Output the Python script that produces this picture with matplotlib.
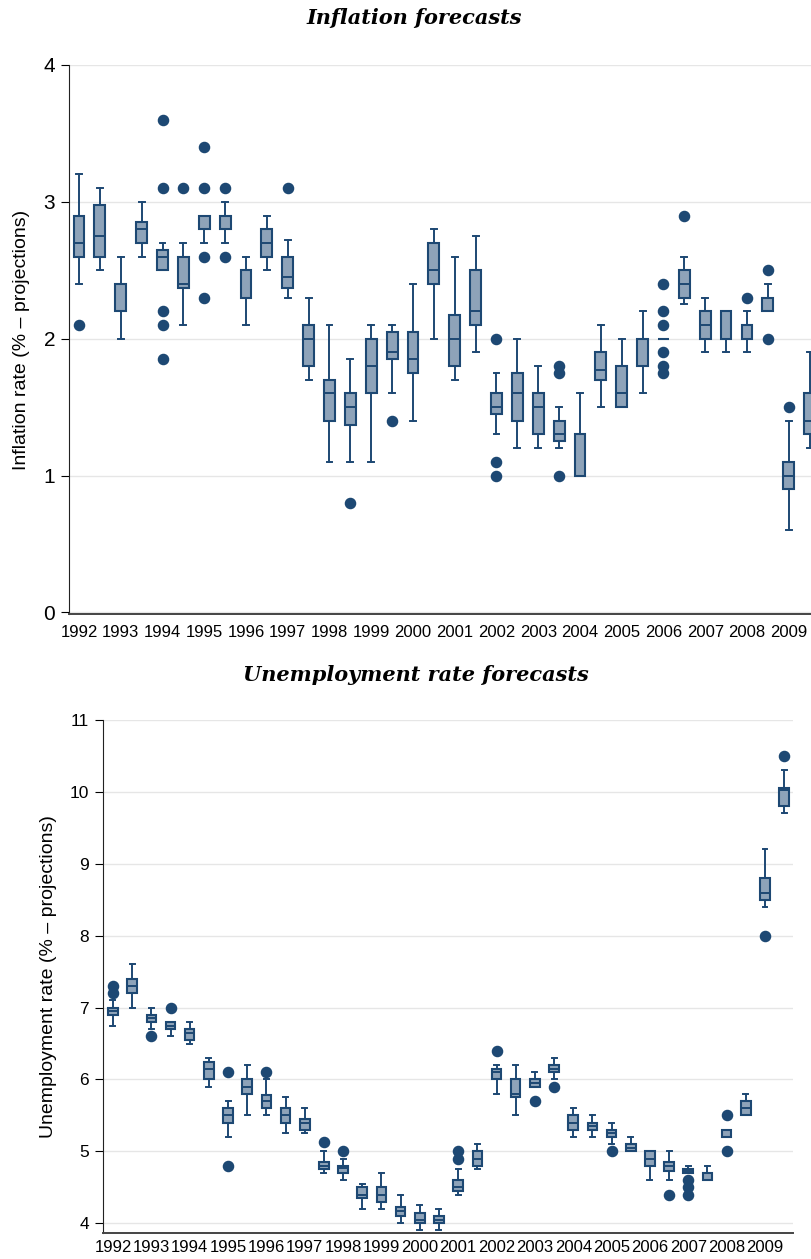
import numpy as np
import matplotlib
matplotlib.use("Agg")
import matplotlib.pyplot as plt

# two forecast rounds per year (spring / autumn)
years = list(range(1992, 2010))
periods = np.arange(1992, 2010, 0.5)

# Inflation forecasts: lower whisker, q1, median, q3, upper whisker, outliers
inf_lo = [2.4, 2.5, 2.0, 2.6, 2.5, 2.1, 2.7, 2.7, 2.1, 2.5, 2.3, 1.7,
          1.1, 1.1, 1.1, 1.6, 1.4, 2.0, 1.7, 1.9, 1.3, 1.2, 1.2, 1.2,
          1.0, 1.5, 1.5, 1.6, 2.0, 2.25, 1.9, 1.9, 1.9, 2.2, 0.6, 1.2]
inf_q1 = [2.6, 2.6, 2.2, 2.7, 2.5, 2.37, 2.8, 2.8, 2.3, 2.6, 2.37, 1.8,
          1.4, 1.37, 1.6, 1.85, 1.75, 2.4, 1.8, 2.1, 1.45, 1.4, 1.3, 1.25,
          1.0, 1.7, 1.5, 1.8, 2.0, 2.3, 2.0, 2.0, 2.0, 2.2, 0.9, 1.3]
inf_med = [2.7, 2.75, 2.4, 2.8, 2.6, 2.4, 2.9, 2.9, 2.5, 2.7, 2.45, 2.0,
           1.6, 1.5, 1.8, 1.9, 1.85, 2.5, 2.0, 2.2, 1.5, 1.6, 1.5, 1.3,
           1.0, 1.77, 1.6, 2.0, 2.0, 2.4, 2.1, 2.2, 2.1, 2.3, 1.0, 1.4]
inf_q3 = [2.9, 2.98, 2.4, 2.85, 2.65, 2.6, 2.9, 2.9, 2.5, 2.8, 2.6, 2.1,
          1.7, 1.6, 2.0, 2.05, 2.05, 2.7, 2.17, 2.5, 1.6, 1.75, 1.6, 1.4,
          1.3, 1.9, 1.8, 2.0, 2.0, 2.5, 2.2, 2.2, 2.1, 2.3, 1.1, 1.6]
inf_hi = [3.2, 3.1, 2.6, 3.0, 2.7, 2.7, 2.9, 3.0, 2.6, 2.9, 2.72, 2.3,
          2.1, 1.85, 2.1, 2.1, 2.4, 2.8, 2.6, 2.75, 1.75, 2.0, 1.8, 1.5,
          1.6, 2.1, 2.0, 2.2, 2.0, 2.6, 2.3, 2.2, 2.2, 2.4, 1.4, 1.9]
inf_out = [[2.1], [], [], [], [3.6, 3.1, 2.2, 2.1, 1.85], [3.1],
           [3.4, 3.1, 2.6, 2.3], [3.1, 2.6], [], [], [3.1], [],
           [], [0.8], [], [1.4], [], [],
           [], [], [2.0, 1.1, 1.0], [], [], [1.8, 1.75, 1.0],
           [], [], [], [], [2.4, 2.2, 2.1, 1.9, 1.8, 1.75], [2.9],
           [], [], [2.3], [2.5, 2.0], [1.5], []]

# Unemployment rate forecasts
une_lo = [6.75, 7.0, 6.7, 6.6, 6.5, 5.9, 5.2, 5.5, 5.5, 5.25, 5.25, 4.7,
          4.6, 4.2, 4.2, 4.0, 3.9, 3.9, 4.4, 4.75, 5.8, 5.5, 5.9, 6.0,
          5.2, 5.2, 5.1, 5.0, 4.6, 4.6, 4.7, 4.6, 5.2, 5.5, 8.4, 9.7]
une_q1 = [6.9, 7.2, 6.8, 6.7, 6.55, 6.0, 5.4, 5.8, 5.6, 5.4, 5.3, 4.75,
          4.7, 4.35, 4.3, 4.1, 4.0, 4.0, 4.45, 4.8, 6.0, 5.75, 5.9, 6.1,
          5.3, 5.3, 5.2, 5.0, 4.8, 4.73, 4.7, 4.6, 5.2, 5.5, 8.5, 9.8]
une_med = [6.95, 7.3, 6.85, 6.75, 6.65, 6.15, 5.5, 5.9, 5.7, 5.5, 5.4, 4.8,
           4.77, 4.4, 4.4, 4.17, 4.05, 4.05, 4.5, 4.9, 6.1, 5.8, 5.95, 6.15,
           5.4, 5.35, 5.25, 5.05, 4.9, 4.8, 4.73, 4.7, 5.2, 5.6, 8.6, 10.02]
une_q3 = [7.0, 7.4, 6.9, 6.8, 6.7, 6.25, 5.6, 6.0, 5.78, 5.6, 5.45, 4.85,
          4.8, 4.5, 4.5, 4.23, 4.15, 4.1, 4.6, 5.0, 6.15, 6.0, 6.0, 6.2,
          5.5, 5.4, 5.3, 5.1, 5.0, 4.85, 4.75, 4.7, 5.3, 5.7, 8.8, 10.05]
une_hi = [7.1, 7.6, 7.0, 6.8, 6.8, 6.3, 5.7, 6.2, 6.0, 5.75, 5.6, 5.0,
          4.9, 4.55, 4.7, 4.4, 4.25, 4.2, 4.75, 5.1, 6.2, 6.2, 6.1, 6.3,
          5.6, 5.5, 5.4, 5.2, 5.0, 5.0, 4.8, 4.8, 5.3, 5.8, 9.2, 10.3]
une_out = [[7.3, 7.2], [], [6.6], [7.0], [], [],
           [6.1, 4.8], [], [6.1], [], [], [5.13],
           [5.0], [], [], [], [], [],
           [5.0, 4.9], [], [6.4], [], [5.7], [5.9],
           [], [], [5.0], [], [], [4.4],
           [4.6, 4.5, 4.4], [], [5.5, 5.0], [], [8.0], [10.5]]

edge = "#1d4873"
face = "#8ea3b9"
grid_col = "#e6e6e6"
plt.rcParams['font.family'] = ['Liberation Sans', 'DejaVu Sans']


def box_stats(lo, q1, med, q3, hi, out):
    return [dict(whislo=a, q1=b, med=c, q3=d, whishi=e, fliers=f)
            for a, b, c, d, e, f in zip(lo, q1, med, q3, hi, out)]


def draw_panel(ax, stats, width, capw):
    ax.bxp(stats, positions=periods, widths=width, capwidths=capw,
           patch_artist=True, manage_ticks=False,
           boxprops=dict(facecolor=face, edgecolor=edge, linewidth=1.5),
           medianprops=dict(color=edge, linewidth=1.4),
           whiskerprops=dict(color=edge, linewidth=1.4),
           capprops=dict(color=edge, linewidth=1.4),
           flierprops=dict(marker='o', markerfacecolor=edge,
                           markeredgecolor=edge, markersize=7.3))
    ax.set_axisbelow(True)
    ax.grid(True, axis='y', color=grid_col, linewidth=1.0)
    ax.spines['top'].set_visible(False)
    ax.spines['right'].set_visible(False)
    ax.spines['left'].set_color('#222222')
    ax.spines['bottom'].set_color('#444444')
    ax.spines['bottom'].set_linewidth(1.4)
    ax.set_xticks(years)
    ax.set_xticklabels([str(y) for y in years])


fig = plt.figure(figsize=(8.12, 12.59), dpi=100)

# top panel, runs past the right edge of the figure like the original
ax1 = fig.add_axes([69 / 812, 645 / 1259, 751 / 812, 549 / 1259])
draw_panel(ax1, box_stats(inf_lo, inf_q1, inf_med, inf_q3, inf_hi, inf_out), 0.26, 0.14)
ax1.set_xlim(1991.76, 2009.75)
ax1.set_ylim(-0.012, 4.0)
ax1.set_yticks([0, 1, 2, 3, 4])
ax1.tick_params(axis='y', labelsize=15, length=6, pad=4)
ax1.tick_params(axis='x', labelsize=12, length=0, pad=8)
ax1.set_ylabel("Inflation rate (% \u2013 projections)", fontsize=14, va='center')
ax1.yaxis.set_label_coords(-0.0626, 0.5)

ax2 = fig.add_axes([103 / 812, 26 / 1259, 690 / 812, 513 / 1259])
draw_panel(ax2, box_stats(une_lo, une_q1, une_med, une_q3, une_hi, une_out), 0.25, 0.13)
ax2.set_xlim(1991.74, 2009.73)
ax2.set_ylim(3.865, 11.0)
ax2.set_yticks([4, 5, 6, 7, 8, 9, 10, 11])
ax2.tick_params(axis='y', labelsize=12.5, length=6, pad=4)
ax2.tick_params(axis='x', labelsize=12, length=0, pad=5)
ax2.set_ylabel("Unemployment rate (% \u2013 projections)", fontsize=14, va='center')
ax2.yaxis.set_label_coords(-0.0797, 0.5)

title_kw = dict(ha='center', va='center', fontsize=15, fontweight='bold',
                fontstyle='italic', family='DejaVu Serif')
fig.text(414 / 812, 1 - 18 / 1259, "Inflation forecasts", **title_kw)
fig.text(416 / 812, 1 - 675 / 1259, "Unemployment rate forecasts", **title_kw)

fig.savefig("out.png", dpi=100)
